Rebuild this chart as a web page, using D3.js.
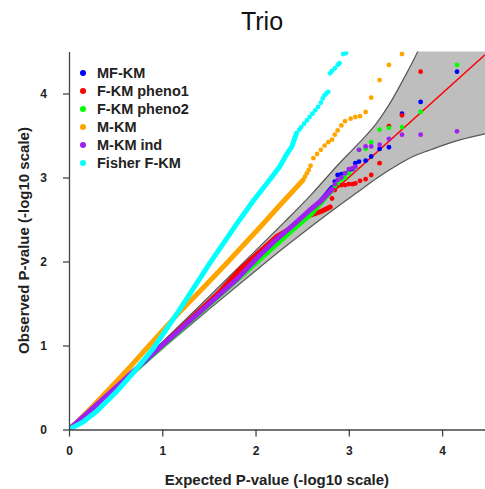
<!DOCTYPE html>
<html>
<head>
<meta charset="utf-8">
<script src="https://cdn.jsdelivr.net/npm/d3@7"></script>
<style>
  body { margin: 0; background: #fff; }
  svg { font-family: "Liberation Sans", Arial, sans-serif; }
</style>
</head>
<body>
<svg id="qq" width="485" height="489"></svg>
<script>
// legend / series names, drawing order as in the legend
const seriesNames = ["MF-KM", "F-KM pheno1", "F-KM pheno2", "M-KM", "M-KM ind", "Fisher F-KM"];
const seriesColors = ["#0000ff", "#ff0000", "#00ff00", "#ffa500", "#a020f0", "#00ffff"];

const xTicks = [0, 1, 2, 3, 4];
const yTicks = [0, 1, 2, 3, 4];

// confidence band (expected, lower, upper)
const bandX     = [0, 0.5, 1.0, 1.5, 2.0, 2.3, 2.6, 2.9, 3.1, 3.3, 3.45, 3.6, 3.73, 3.85, 4.0, 4.2, 4.46];
const bandUpper = [0, 0.52, 1.04, 1.58, 2.13, 2.46, 2.80, 3.17, 3.40, 3.65, 3.90, 4.20, 4.48, 4.78, 5.2, 5.8, 6.5];
const bandLower = [0, 0.48, 0.96, 1.43, 1.89, 2.16, 2.42, 2.67, 2.83, 2.99, 3.10, 3.20, 3.27, 3.32, 3.38, 3.45, 3.52];

// dense part of each series (drawn as a thick run of points), [expected, observed]
const mfkmDense = [[0, 0], [1, 1], [1.8, 1.8], [2.2, 2.22], [2.4, 2.42], [2.6, 2.6], [2.7, 2.72], [2.82, 2.88]];
const fkm1Dense = [[0, 0], [1, 1], [1.6, 1.62], [1.83, 1.9], [2.05, 2.12], [2.23, 2.3], [2.4, 2.41], [2.58, 2.55], [2.69, 2.59], [2.8, 2.65]];
const fkm2Dense = [[0, 0], [1, 0.99], [1.8, 1.78], [2.2, 2.18], [2.4, 2.38], [2.6, 2.57], [2.75, 2.76], [2.82, 2.85]];
const mkmDense  = [[0, 0], [0.1, 0.1], [0.25, 0.27], [0.44, 0.49], [0.65, 0.74], [0.86, 1.0], [1.17, 1.38], [1.45, 1.7], [1.69, 1.98], [2.05, 2.41], [2.26, 2.67], [2.51, 2.97]];
const mkmiDense = [[0, 0], [1, 1], [1.8, 1.79], [2.05, 2.08], [2.2, 2.24], [2.4, 2.43], [2.58, 2.61], [2.7, 2.72], [2.82, 2.86]];
const fishDense = [[0, 0], [0.15, 0.09], [0.3, 0.22], [0.5, 0.44], [0.7, 0.69], [0.9, 0.96], [1.17, 1.4], [1.51, 1.98], [1.8, 2.45], [1.98, 2.73], [2.15, 2.97], [2.26, 3.13], [2.33, 3.27], [2.39, 3.37], [2.44, 3.53]];

// sparse tail points
const mfkmTail = [[2.85, 2.95], [2.88, 3.03], [2.92, 3.04], [2.96, 3.05], [3.0, 3.07], [3.04, 3.1], [3.07, 3.17], [3.11, 3.19], [3.18, 3.2], [3.24, 3.25], [3.33, 3.34], [3.43, 3.36], [3.57, 3.76], [3.77, 3.9], [4.16, 4.26]];
const fkm1Tail = [[2.82, 2.75], [2.85, 2.85], [2.88, 2.9], [2.92, 2.91], [2.96, 2.91], [3.0, 2.92], [3.04, 2.92], [3.07, 2.93], [3.12, 2.96], [3.18, 2.98], [3.24, 3.03], [3.33, 3.17], [3.43, 3.61], [3.57, 3.74], [3.77, 4.26]];
const fkm2Tail = [[2.85, 2.9], [2.88, 2.93], [2.92, 2.97], [2.96, 3.0], [3.0, 3.05], [3.07, 3.12], [3.11, 3.33], [3.18, 3.34], [3.24, 3.42], [3.33, 3.57], [3.43, 3.59], [3.57, 3.6], [3.77, 3.78], [4.16, 4.34]];
const mkmTail  = [[2.53, 3.01], [2.55, 3.05], [2.57, 3.09], [2.59, 3.14], [2.62, 3.23], [2.66, 3.28], [2.7, 3.33], [2.74, 3.38], [2.78, 3.42], [2.82, 3.45], [2.85, 3.51], [2.88, 3.56], [2.92, 3.62], [2.96, 3.67], [3.02, 3.7], [3.07, 3.72], [3.12, 3.73], [3.18, 3.78], [3.24, 3.95], [3.33, 4.16], [3.43, 4.34], [3.57, 4.47]];
const mkmiTail = [[2.85, 2.92], [2.88, 2.97], [2.92, 3.0], [2.96, 3.05], [3.0, 3.1], [3.04, 3.11], [3.07, 3.13], [3.11, 3.33], [3.18, 3.37], [3.24, 3.37], [3.33, 3.39], [3.43, 3.46], [3.57, 3.51], [3.77, 3.51], [4.16, 3.55]];
const fishTail = [[2.47, 3.57], [2.49, 3.6], [2.52, 3.64], [2.55, 3.68], [2.58, 3.72], [2.61, 3.76], [2.64, 3.8], [2.67, 3.84], [2.7, 3.89], [2.72, 3.94], [2.74, 3.98], [2.76, 4.0], [2.78, 4.02], [2.8, 4.24], [2.82, 4.27], [2.85, 4.3], [2.88, 4.34], [2.9, 4.36], [2.94, 4.47], [2.97, 4.48]];

const denseSets = [mfkmDense, fkm1Dense, fkm2Dense, mkmDense, mkmiDense, fishDense];
const tailSets = [mfkmTail, fkm1Tail, fkm2Tail, mkmTail, mkmiTail, fishTail];

const svg = d3.select("#qq");
const x = d3.scaleLinear().domain([0, 4.46]).range([69, 485]);
const y = d3.scaleLinear().domain([0, 4.5]).range([429.5, 51.5]);

svg.append("defs").append("clipPath").attr("id", "plotClip")
  .append("rect")
  .attr("x", x(0)).attr("y", y(4.5))
  .attr("width", x(4.46) - x(0)).attr("height", y(0) - y(4.5));

const plot = svg.append("g").attr("clip-path", "url(#plotClip)");

const band = bandX.map((d, i) => ({ x: d, lo: bandLower[i], hi: bandUpper[i] }));

plot.append("path")
  .datum(band)
  .attr("fill", "#bebebe")
  .attr("d", d3.area().curve(d3.curveMonotoneX)
    .x(d => x(d.x)).y0(d => y(d.lo)).y1(d => y(d.hi)));

["lo", "hi"].forEach(k => {
  plot.append("path")
    .datum(band)
    .attr("fill", "none")
    .attr("stroke", "#555")
    .attr("stroke-width", 1.2)
    .attr("d", d3.line().curve(d3.curveMonotoneX).x(d => x(d.x)).y(d => y(d[k])));
});

// y = x reference line
plot.append("line")
  .attr("x1", x(0)).attr("y1", y(0))
  .attr("x2", x(4.46)).attr("y2", y(4.46))
  .attr("stroke", "#ff0000")
  .attr("stroke-width", 1.5);

const line = d3.line().x(d => x(d[0])).y(d => y(d[1]));

seriesNames.forEach((name, i) => {
  const g = plot.append("g");
  g.append("path")
    .datum(denseSets[i])
    .attr("fill", "none")
    .attr("stroke", seriesColors[i])
    .attr("stroke-width", 5)
    .attr("stroke-linecap", "round")
    .attr("stroke-linejoin", "round")
    .attr("d", line);
  g.selectAll("circle")
    .data(tailSets[i])
    .join("circle")
    .attr("cx", d => x(d[0]))
    .attr("cy", d => y(d[1]))
    .attr("r", 2.4)
    .attr("fill", seriesColors[i]);
});

// axes
const xAxis = svg.append("g")
  .attr("transform", `translate(0,${y(0)})`)
  .call(d3.axisBottom(x).tickValues(xTicks).tickFormat(d3.format("d")).tickSize(7).tickSizeOuter(0).tickPadding(10));
const yAxis = svg.append("g")
  .attr("transform", `translate(${x(0)},0)`)
  .call(d3.axisLeft(y).tickValues(yTicks).tickFormat(d3.format("d")).tickSize(6).tickSizeOuter(0).tickPadding(16));

[xAxis, yAxis].forEach(a => {
  a.selectAll("path, line").attr("stroke", "#444").attr("stroke-width", 1.3);
  a.selectAll("text").attr("fill", "#222").attr("font-size", 12).attr("font-weight", "bold")
    .attr("font-family", "Liberation Sans, Arial, sans-serif");
});

// titles
svg.append("text")
  .attr("x", 262).attr("y", 30)
  .attr("text-anchor", "middle")
  .attr("font-size", 25)
  .attr("fill", "#111")
  .text("Trio");

svg.append("text")
  .attr("x", (x(0) + x(4.46)) / 2).attr("y", 485)
  .attr("text-anchor", "middle")
  .attr("font-size", 15).attr("font-weight", "bold").attr("fill", "#222")
  .text("Expected P-value (-log10 scale)");

svg.append("text")
  .attr("transform", `translate(29,${(y(0) + y(4.5)) / 2}) rotate(-90)`)
  .attr("text-anchor", "middle")
  .attr("font-size", 15).attr("font-weight", "bold").attr("fill", "#222")
  .text("Observed P-value (-log10 scale)");

// legend
const legend = svg.append("g");
seriesNames.forEach((name, i) => {
  const ly = 73 + i * 18;
  legend.append("circle").attr("cx", 83).attr("cy", ly).attr("r", 3).attr("fill", seriesColors[i]);
  legend.append("text")
    .attr("x", 97).attr("y", ly + 5)
    .attr("font-size", 14.5).attr("font-weight", "bold").attr("fill", "#222")
    .text(name);
});
</script>
</body>
</html>
